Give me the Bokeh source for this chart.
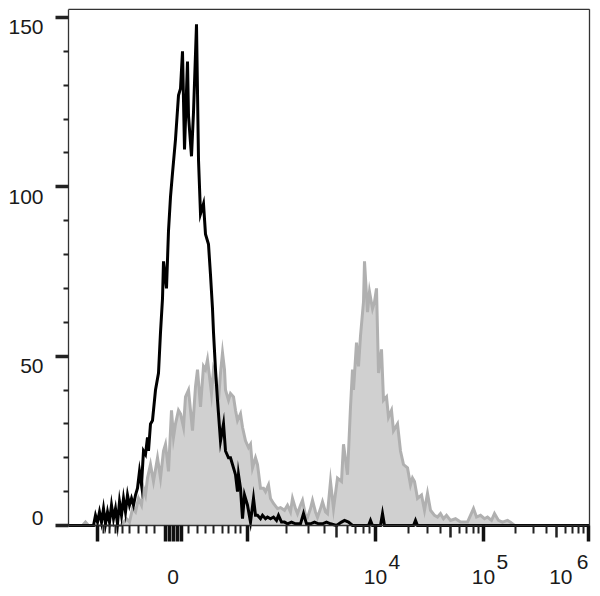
import math
from bokeh.plotting import figure
from bokeh.models import FixedTicker, Range1d, LinearAxis, CustomJSTickFormatter
from bokeh.core.properties import value
from bokeh.embed import file_html
from bokeh.resources import INLINE

# ---------------- data (x = display channel on the transformed axis, 0..521) ----------------
BLACK_X = [0, 25, 27, 29, 31, 33, 35, 37, 39, 41, 43, 45, 47, 49, 51, 53, 55, 57, 59, 61, 63, 65, 67, 69,
           71, 73, 75, 77, 79, 80, 82, 84, 87, 90, 92, 94, 95, 98, 100, 102, 104, 107, 110, 112, 114, 116,
           119, 120, 123, 125, 128, 130, 132, 135, 137, 140, 142, 144, 145, 147, 149, 152, 155, 157, 160,
           162, 165, 167, 169, 170, 172, 174, 176, 179, 182, 185, 187, 189, 192, 194, 197, 199, 202, 205,
           208, 210, 213, 216, 219, 223, 227, 232, 235, 238, 242, 246, 250, 254, 258, 262, 268, 273, 276,
           280, 284, 300, 302, 304, 312, 314, 316, 345, 347, 349, 521]
BLACK_Y = [0, 0, 3, 1, 4, 1, 5, 0.5, 4, 1, 6, 2, 5, 0.5, 7, 3, 8, 4, 9, 6, 8, 6, 9, 11,
           16, 12, 22, 21, 26, 22, 30, 31, 40, 45, 57, 67, 78, 70, 87, 97, 104, 114, 127, 129, 140, 111,
           137, 121, 109, 122, 148, 108, 92, 95, 86, 83, 74, 64, 57, 46, 37, 25, 30, 22, 20,
           20, 17, 15, 10, 15, 11, 2, 9, 6, 1, 8, 3, 3, 2, 3, 2, 2.5, 2, 2.5,
           1.5, 3, 1, 1, 0.5, 1, 0.5, 0.5, 3.5, 0.5, 0.5, 1, 0.5, 0.5, 1, 0.5, 0, 1, 1.5,
           1, 0, 0, 1.5, 0, 0, 3.5, 0, 0, 1.5, 0, 0]

GRAY_X = [0, 14, 17, 20, 52, 54, 58, 61, 64, 67, 70, 73, 75, 77, 79, 82, 85, 89, 92, 95, 97, 100, 103,
          105, 107, 110, 112, 115, 117, 120, 122, 124, 127, 129, 132, 135, 137, 139, 141, 143, 145, 147,
          150, 152, 154, 156, 157, 160, 162, 165, 167, 169, 172, 174, 177, 180, 182, 184, 187, 189, 192,
          195, 197, 200, 202, 205, 209, 212, 216, 219, 222, 224, 227, 229, 232, 234, 237, 239, 242, 244,
          247, 249, 252, 254, 257, 259, 262, 265, 269, 273, 275, 279, 282, 284, 285, 288, 290, 292, 295,
          296, 299, 301, 304, 306, 308, 310, 313, 315, 318, 320, 323, 325, 329, 332, 335, 339, 342, 344,
          346, 349, 353, 356, 359, 362, 366, 369, 372, 375, 378, 382, 387, 392, 399, 402, 405, 408, 412,
          416, 419, 423, 426, 430, 434, 439, 442, 446, 521]
GRAY_Y = [0, 0, 1, 0, 0, 0.5, 2, 1, 5, 4, 8, 6, 11, 9, 14, 18, 13, 20, 14, 22, 24, 16, 34,
          26, 30, 34, 33, 29, 38, 40, 34, 28, 41, 46, 35, 47, 46, 49, 44, 39, 46, 44,
          37, 45, 51, 46, 40, 37, 39, 38, 34, 31, 33, 29, 25, 23, 24, 17, 20, 18, 11,
          11, 10, 12, 8, 6.5, 5, 5.3, 4.5, 6, 4, 8, 5, 3.5, 6, 7.4, 3, 2.4, 5, 7.4,
          4, 2.4, 5, 7, 4, 3.5, 13, 5, 14, 13, 24, 15, 35, 46, 40, 54, 47, 56, 66,
          78, 63, 69, 64, 66, 70, 45, 52, 37, 38, 32, 34, 28, 30, 22, 18, 17, 12, 14,
          13, 8, 9, 4.5, 9.5, 4.5, 3, 2.5, 3.5, 2, 3, 1.5, 2, 1, 1, 3, 5, 2.5, 3,
          2, 2.5, 1.5, 3.5, 1.5, 1, 1.5, 1, 0, 0]

Y_MAJOR = [0, 50, 100, 150]
Y_LABELS = ["0", "50", "100", "150"]
Y_MINOR = [10, 20, 30, 40, 60, 70, 80, 90, 110, 120, 130, 140]
Y_TOP = 152.4
X_END = 521

# transformed (biexponential-like) x scale: display channel of anchor values
ZERO_POS = 104
DECADE_POS = {-1e3: 29, 1e3: 179, 1e4: 307, 1e5: 415, 1e6: 520}
ZERO_CLUSTER = [97, 101, 105, 109, 112.5]
INNER_MINOR = [35, 41, 47, 54, 61, 70, 78, 86, 120, 129, 137, 145, 154, 160, 167, 172]

X_LABEL_VALUES = [1e4, 1e5, 1e6]
X_LABEL_EXP = ["4", "5", "6"]

FONT = "Liberation Sans"
TXT = "#1a1a1a"
AX = "#333333"


def log_pos(v):
    decs = [1e3, 1e4, 1e5, 1e6]
    for lo, hi in zip(decs[:-1], decs[1:]):
        if lo <= v <= hi:
            a, b = DECADE_POS[lo], DECADE_POS[hi]
            return a + (b - a) * math.log10(v / lo)
    return None


x_major = sorted([DECADE_POS[k] for k in DECADE_POS] + ZERO_CLUSTER)
x_mid = [log_pos(5 * lo) for lo in [1e3, 1e4, 1e5]]
x_minor = list(INNER_MINOR)
for lo in [1e3, 1e4, 1e5]:
    for k in [2, 3, 4, 6, 7, 8, 9]:
        x_minor.append(log_pos(k * lo))

# the frame covers the whole canvas; axes are placed at data 0 with bounds
p = figure(width=592, height=588, x_range=Range1d(-68, 524), y_range=Range1d(-18.6, 155.0),
           output_backend="svg", toolbar_location=None, x_axis_type=None, y_axis_type=None,
           min_border=0)
p.xgrid.visible = False
p.ygrid.visible = False
p.outline_line_color = None
p.background_fill_color = "white"
p.border_fill_color = "white"

# gray filled histogram
p.varea(x=GRAY_X, y1=0, y2=GRAY_Y, fill_color="#d0d0d0")
p.line(GRAY_X, GRAY_Y, line_color="#b0b0b0", line_width=3, line_join="miter")
# black outline histogram
p.line(BLACK_X, BLACK_Y, line_color="black", line_width=3, line_join="miter")

# top and right frame border
p.segment(x0=[0, X_END], y0=[Y_TOP, 0], x1=[X_END, X_END], y1=[Y_TOP, Y_TOP],
          line_color=AX, line_width=1.3)

blank = CustomJSTickFormatter(code="return ''")

# y axis (ticks; labels drawn as text below)
ya = LinearAxis(fixed_location=0, bounds=(0, Y_TOP),
                ticker=FixedTicker(ticks=Y_MAJOR, minor_ticks=Y_MINOR), formatter=blank)
ya.axis_line_color = AX
ya.axis_line_width = 1.3
ya.major_tick_in = 0
ya.major_tick_out = 13
ya.major_tick_line_width = 3.5
ya.major_tick_line_color = "#222222"
ya.minor_tick_in = 0
ya.minor_tick_out = 5
ya.minor_tick_line_width = 2
ya.minor_tick_line_color = "#222222"
p.add_layout(ya, "left")

# x axis (major + minor ticks)
xa = LinearAxis(fixed_location=0, bounds=(0, X_END),
                ticker=FixedTicker(ticks=x_major, minor_ticks=x_minor), formatter=blank)
xa.axis_line_color = AX
xa.axis_line_width = 1.3
xa.major_tick_in = 0
xa.major_tick_out = 16
xa.major_tick_line_width = 3.5
xa.major_tick_line_color = "#111111"
xa.minor_tick_in = 0
xa.minor_tick_out = 8
xa.minor_tick_line_width = 2
xa.minor_tick_line_color = "#222222"
p.add_layout(xa, "below")

# x axis: medium ticks at 5 x 10^n
xm = LinearAxis(fixed_location=0, bounds=(0, X_END),
                ticker=FixedTicker(ticks=x_mid, minor_ticks=[]), formatter=blank)
xm.axis_line_color = None
xm.major_tick_in = 0
xm.major_tick_out = 12
xm.major_tick_line_width = 2.5
xm.major_tick_line_color = "#222222"
p.add_layout(xm, "below")

txt_kw = dict(text_font=value(FONT), text_font_size=value("21px"), text_color=TXT,
              text_baseline="middle")

# y-axis labels (FlowJo style: "0" sits above its tick, the others just below theirs)
p.text(x=[0], y=[Y_MAJOR[0]], text=[Y_LABELS[0]], text_align="right", x_offset=-25, y_offset=-8,
       **txt_kw)
p.text(x=[0] * (len(Y_MAJOR) - 1), y=Y_MAJOR[1:], text=Y_LABELS[1:], text_align="right",
       x_offset=-25, y_offset=10, **txt_kw)

# x-axis labels
BASE_OFF = 51
SUP_OFF = 36
base_x = [ZERO_POS + 0.5] + [DECADE_POS[v] for v in X_LABEL_VALUES[:-1]]
base_t = ["0"] + ["10"] * (len(X_LABEL_VALUES) - 1)
p.text(x=base_x, y=[0] * len(base_x), text=base_t, text_align="center", y_offset=BASE_OFF, **txt_kw)
sup_x = [DECADE_POS[v] for v in X_LABEL_VALUES[:-1]]
p.text(x=sup_x, y=[0] * len(sup_x), text=X_LABEL_EXP[:-1], text_align="left",
       x_offset=13, y_offset=SUP_OFF, **txt_kw)
last = DECADE_POS[X_LABEL_VALUES[-1]]
p.text(x=[last], y=[0], text=["10"], text_align="right", x_offset=-16, y_offset=BASE_OFF, **txt_kw)
p.text(x=[last], y=[0], text=[X_LABEL_EXP[-1]], text_align="right", x_offset=0, y_offset=SUP_OFF,
       **txt_kw)

open("out.html", "w").write(file_html(p, INLINE))
